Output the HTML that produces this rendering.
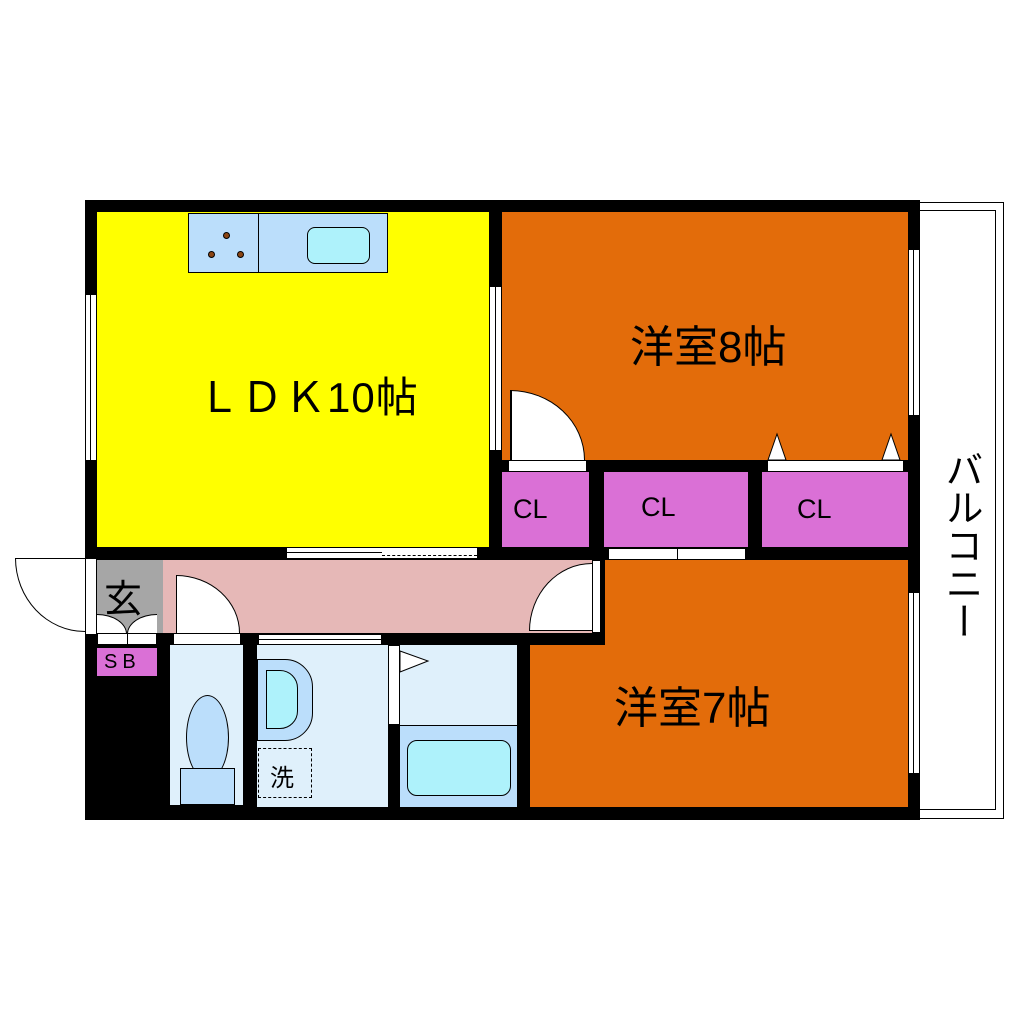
<!DOCTYPE html><html><head><meta charset="utf-8"><style>
body{margin:0;width:1020px;height:1020px;background:#fff;position:relative;overflow:hidden;font-family:"Liberation Sans","Noto Sans CJK JP",sans-serif}
div{position:absolute;box-sizing:border-box}
.t{color:#000;white-space:nowrap}
</style></head><body>
<!-- balcony -->
<div style="left:918px;top:202px;width:86px;height:617px;border:1px solid #000;background:#fff"></div>
<div style="left:918px;top:210px;width:78px;height:600px;border-right:1px solid #000;border-top:1px solid #000;border-bottom:1px solid #000"></div>
<div class="t" style="left:938px;top:450px;width:44px;font-size:38px;line-height:44px;text-align:center;writing-mode:vertical-rl">バルコニー</div>
<!-- black base -->
<div style="left:85px;top:200px;width:835px;height:620px;background:#000"></div>
<!-- LDK -->
<div style="left:97px;top:212px;width:392px;height:335px;background:#ffff00"></div>
<div style="left:188px;top:213px;width:200px;height:60px;background:#bbdefb;border:1px solid #000"></div>
<div style="left:258px;top:213px;width:1px;height:60px;background:#000"></div>
<div style="left:307px;top:227px;width:63px;height:37px;background:#aef2fb;border:1px solid #000;border-radius:8px"></div>
<div style="left:223px;top:232px;width:7px;height:7px;background:#8b4513;border:1px solid #000;border-radius:50%"></div>
<div style="left:208px;top:251px;width:7px;height:7px;background:#8b4513;border:1px solid #000;border-radius:50%"></div>
<div style="left:237px;top:251px;width:7px;height:7px;background:#8b4513;border:1px solid #000;border-radius:50%"></div>
<div class="t" style="left:198px;top:364px;font-size:42px;letter-spacing:1px">ＬＤＫ10帖</div>
<!-- LDK left window -->
<div style="left:85px;top:295px;width:12px;height:165px;background:#fff;border-left:1px solid #000;border-right:1px solid #000"></div>
<div style="left:90px;top:295px;width:1px;height:165px;background:#000"></div>
<!-- LDK right window -->
<div style="left:489px;top:287px;width:13px;height:163px;background:#fff;border-left:1px solid #000;border-right:1px solid #000"></div>
<div style="left:495px;top:287px;width:1px;height:163px;background:#000"></div>
<!-- LDK bottom sliding -->
<div style="left:287px;top:547px;width:190px;height:12px;background:#fff;border-top:1px solid #000;border-bottom:1px solid #000"></div>
<div style="left:287px;top:552px;width:95px;height:1px;background:#000"></div>
<div style="left:382px;top:555px;width:95px;height:0;border-top:1px dashed #000"></div>
<!-- 8 room -->
<div style="left:502px;top:212px;width:406px;height:248px;background:#e36c0a"></div>
<div class="t" style="left:630px;top:311px;font-size:44px">洋室8帖</div>
<div style="left:908px;top:250px;width:12px;height:165px;background:#fff;border-left:1px solid #000;border-right:1px solid #000"></div>
<div style="left:913px;top:250px;width:1px;height:165px;background:#000"></div>
<!-- door 8 -->
<div style="left:510px;top:390px;width:75px;height:70px;background:#fff;border-top-right-radius:75px 70px;border:1px solid #000;border-left:2px solid #000;border-bottom:none"></div>
<div style="left:508px;top:460px;width:79px;height:12px;background:#fff;border:1px solid #000"></div>
<div style="left:767px;top:460px;width:137px;height:12px;background:#fff;border:1px solid #000"></div>
<svg style="position:absolute;left:0;top:0" width="1020" height="1020">
<polygon points="768,460 777,434 786,460" fill="#fff" stroke="#000"/>
<polygon points="882,460 891,434 900,460" fill="#fff" stroke="#000"/>
<polygon points="612,560 621,585 630,560" fill="#fff" stroke="#000"/>
<polygon points="725,560 734,585 743,560" fill="#fff" stroke="#000"/>
</svg>
<!-- CLs -->
<div style="left:502px;top:472px;width:87px;height:75px;background:#da70d6"></div>
<div style="left:604px;top:472px;width:144px;height:75px;background:#da70d6"></div>
<div style="left:762px;top:472px;width:146px;height:75px;background:#da70d6"></div>
<div class="t" style="left:513px;top:494px;font-size:27px">CL</div>
<div class="t" style="left:641px;top:492px;font-size:27px">CL</div>
<div class="t" style="left:797px;top:494px;font-size:27px">CL</div>
<div style="left:608px;top:548px;width:138px;height:12px;background:#fff;border:1px solid #000"></div>
<div style="left:677px;top:548px;width:1px;height:12px;background:#000"></div>
<!-- 7 room -->
<div style="left:605px;top:560px;width:303px;height:247px;background:#e36c0a"></div>
<div style="left:530px;top:645px;width:378px;height:162px;background:#e36c0a"></div>
<div class="t" style="left:614px;top:672px;font-size:44px">洋室7帖</div>
<div style="left:908px;top:593px;width:12px;height:180px;background:#fff;border-left:1px solid #000;border-right:1px solid #000"></div>
<div style="left:913px;top:593px;width:1px;height:180px;background:#000"></div>
<!-- hallway -->
<div style="left:163px;top:560px;width:430px;height:73px;background:#e6b8b7"></div>
<div style="left:592px;top:560px;width:9px;height:73px;background:#fff;border:1px solid #000"></div>
<div style="left:529px;top:563px;width:63px;height:68px;background:#fff;border-top-left-radius:63px 68px;border-top:1px solid #000;border-left:1px solid #000;border-bottom:1px solid #000"></div>
<div style="left:176px;top:575px;width:64px;height:58px;background:#fff;border-top-right-radius:64px 58px;border:1px solid #000;border-bottom:none"></div>
<div style="left:173px;top:633px;width:68px;height:12px;background:#fff;border:1px solid #000"></div>
<!-- genkan -->
<div style="left:97px;top:560px;width:66px;height:73px;background:#a6a6a6"></div>
<div class="t" style="left:104px;top:568px;font-size:38px">玄</div>
<div style="left:97px;top:614px;width:30px;height:20px;background:#fff;border-top-right-radius:30px 20px;border:1px solid #000;border-bottom:none;border-left:none"></div>
<div style="left:127px;top:614px;width:30px;height:20px;background:#fff;border-top-left-radius:30px 20px;border:1px solid #000;border-bottom:none;border-right:none"></div>
<div style="left:97px;top:633px;width:60px;height:12px;background:#fff;border:1px solid #000"></div>
<div style="left:127px;top:633px;width:1px;height:12px;background:#000"></div>
<div style="left:85px;top:558px;width:12px;height:77px;background:#fff;border:1px solid #000"></div>
<div style="left:15px;top:558px;width:70px;height:74px;border-bottom-left-radius:70px 74px;border-left:1px solid #000;border-bottom:1px solid #000;border-top:1px solid #000;background:#fff"></div>
<div style="left:97px;top:648px;width:60px;height:28px;background:#da70d6"></div>
<div class="t" style="left:104px;top:651px;font-size:20px;letter-spacing:5px">SB</div>
<!-- toilet -->
<div style="left:170px;top:645px;width:73px;height:160px;background:#dff0fb"></div>
<div style="left:186px;top:695px;width:43px;height:85px;background:#bbdefb;border:1px solid #000;border-radius:50%/50%"></div>
<div style="left:180px;top:768px;width:55px;height:37px;background:#bbdefb;border:1px solid #000"></div>
<!-- wash -->
<div style="left:257px;top:645px;width:131px;height:162px;background:#dff0fb"></div>
<div style="left:258px;top:634px;width:124px;height:11px;background:#fff;border:1px solid #000"></div>
<div style="left:258px;top:639px;width:124px;height:1px;background:#000"></div>
<div style="left:257px;top:659px;width:56px;height:82px;background:#bbdefb;border:1px solid #000;border-radius:0 28px 28px 0"></div>
<div style="left:266px;top:670px;width:32px;height:59px;background:#aef2fb;border:1px solid #000;border-radius:0 18px 18px 0"></div>
<div style="left:258px;top:748px;width:54px;height:50px;border:1px dashed #000"></div>
<div class="t" style="left:270px;top:758px;font-size:24px">洗</div>
<!-- bath -->
<div style="left:400px;top:645px;width:117px;height:162px;background:#dff0fb"></div>
<div style="left:400px;top:725px;width:117px;height:82px;background:#bbdefb;border-top:1px solid #000"></div>
<div style="left:407px;top:740px;width:104px;height:56px;background:#aef2fb;border:1px solid #000;border-radius:10px"></div>
<div style="left:388px;top:645px;width:12px;height:80px;background:#fff;border:1px solid #000"></div>
<svg style="position:absolute;left:0;top:0" width="1020" height="1020"><polygon points="400,651 428,661 400,672" fill="#fff" stroke="#000"/></svg>
</body></html>
